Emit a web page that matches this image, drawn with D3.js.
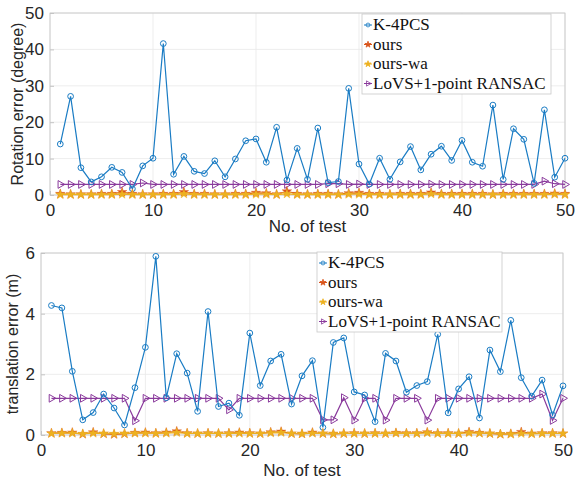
<!DOCTYPE html>
<html>
<head>
<meta charset="utf-8">
<script src="https://cdn.jsdelivr.net/npm/d3@7"></script>
<style>
  body { margin: 0; background: #fff; }
  svg { display: block; }
</style>
</head>
<body>
<div id="chart"></div>
<script>
// test index 1..50
const tests = d3.range(1, 51);

const seriesNames = ['K-4PCS', 'ours', 'ours-wa', 'LoVS+1-point RANSAC'];
const seriesColors = ['#1a7cc4', '#D95319', '#EDB120', '#8a3a9c'];

// rotation error (degree)
const rotK4pcs = [14.0, 27.1, 7.5, 3.6, 5.0, 7.6, 6.2, 1.7, 8.0, 10.1,
  41.6, 5.7, 10.6, 6.5, 5.9, 9.4, 5.0, 9.9, 14.9, 15.4,
  9.0, 18.6, 4.1, 12.8, 4.3, 18.4, 3.4, 3.7, 29.3, 8.5,
  3.0, 10.1, 4.3, 9.1, 13.3, 6.9, 11.2, 13.4, 9.5, 15.0,
  9.0, 7.9, 24.7, 4.3, 18.2, 15.3, 3.2, 23.4, 4.9, 10.1];
const rotOurs = [0.3, 0.2, 0.2, 0.2, 0.3, 0.3, 0.8, 0.3, 0.2, 0.2,
  0.3, 0.3, 0.8, 0.3, 0.3, 0.2, 0.2, 0.3, 0.3, 0.6,
  0.5, 0.2, 1.0, 0.3, 0.2, 0.3, 0.3, 0.2, 0.5, 0.6,
  0.3, 0.3, 0.2, 0.3, 0.3, 0.3, 0.7, 0.3, 0.3, 0.3,
  0.3, 0.3, 0.2, 0.3, 0.3, 0.3, 0.3, 0.3, 0.4, 0.3];
const rotOursWa = [0.1, 0.1, 0.1, 0.1, 0.1, 0.1, 0.2, 0.1, 0.1, 0.1,
  0.1, 0.1, 0.3, 0.1, 0.1, 0.1, 0.1, 0.1, 0.1, 0.2,
  0.2, 0.1, 0.3, 0.1, 0.1, 0.1, 0.1, 0.1, 0.2, 0.2,
  0.1, 0.1, 0.1, 0.1, 0.1, 0.1, 0.3, 0.1, 0.1, 0.1,
  0.1, 0.1, 0.1, 0.1, 0.1, 0.1, 0.1, 0.1, 0.2, 0.1];
const rotLovs = [2.9, 2.9, 2.9, 2.9, 2.9, 2.9, 2.9, 2.9, 3.3, 2.9,
  2.9, 2.9, 2.9, 2.9, 2.9, 2.9, 2.9, 2.9, 2.9, 2.9,
  2.9, 2.9, 2.9, 2.9, 2.9, 2.9, 3.1, 3.1, 2.9, 3.0,
  2.9, 2.9, 2.9, 2.9, 2.9, 2.9, 3.0, 2.9, 2.9, 2.9,
  2.9, 2.9, 2.9, 2.9, 2.9, 2.9, 2.9, 3.8, 3.1, 2.9];

// translation error (m)
const transK4pcs = [4.27, 4.19, 2.10, 0.50, 0.74, 1.35, 0.89, 0.33, 1.56, 2.89,
  5.89, 1.23, 2.68, 2.04, 0.78, 4.07, 0.94, 1.05, 0.65, 3.36,
  1.63, 2.44, 2.66, 1.02, 1.95, 2.45, 0.25, 3.05, 3.20, 1.42,
  1.32, 0.44, 2.69, 2.44, 1.41, 1.63, 1.76, 3.32, 0.73, 1.52,
  1.92, 0.56, 2.80, 2.09, 3.78, 1.89, 1.28, 1.81, 0.66, 1.62];
const transOurs = [0.06, 0.07, 0.08, 0.03, 0.09, 0.04, 0.02, 0.04, 0.07, 0.08,
  0.06, 0.08, 0.12, 0.06, 0.05, 0.06, 0.05, 0.06, 0.08, 0.06,
  0.05, 0.09, 0.11, 0.05, 0.04, 0.08, 0.05, 0.04, 0.05, 0.06,
  0.05, 0.06, 0.05, 0.07, 0.06, 0.06, 0.09, 0.06, 0.06, 0.05,
  0.10, 0.07, 0.05, 0.03, 0.04, 0.10, 0.05, 0.06, 0.06, 0.05];
const transOursWa = [0.05, 0.06, 0.06, 0.04, 0.06, 0.05, 0.04, 0.05, 0.06, 0.06,
  0.05, 0.06, 0.08, 0.05, 0.05, 0.05, 0.05, 0.05, 0.06, 0.05,
  0.05, 0.07, 0.08, 0.05, 0.04, 0.06, 0.05, 0.04, 0.05, 0.05,
  0.05, 0.05, 0.05, 0.06, 0.05, 0.05, 0.07, 0.05, 0.05, 0.05,
  0.07, 0.06, 0.05, 0.03, 0.03, 0.05, 0.04, 0.05, 0.05, 0.05];
const transLovs = [1.21, 1.21, 1.21, 1.21, 1.21, 1.21, 1.21, 1.21, 0.47, 1.21,
  1.21, 1.21, 1.21, 1.21, 1.21, 1.21, 1.21, 0.83, 1.21, 1.21,
  1.21, 1.21, 1.21, 1.21, 1.21, 1.21, 0.50, 0.50, 1.23, 0.49,
  1.21, 1.21, 0.49, 1.21, 1.21, 1.21, 0.49, 1.21, 1.21, 1.21,
  1.21, 1.21, 1.21, 1.21, 1.21, 1.21, 1.21, 1.35, 0.48, 1.21];

const xTicks = [0, 10, 20, 30, 40, 50];
const rotTicks = [0, 10, 20, 30, 40, 50];
const transTicks = [0, 2, 4, 6];

const width = 575, height = 480;
const svg = d3.select('#chart').append('svg')
  .attr('width', width)
  .attr('height', height)
  .style('background', '#fff');

const symbolTypes = [d3.symbolCircle, d3.symbolStar, d3.symbolStar, d3.symbolTriangle];
const markerSizes = [26, 28, 28, 26];

function drawPanel(cfg) {
  const x = d3.scaleLinear().domain([0, 50]).range([cfg.left, cfg.right]);
  const y = d3.scaleLinear().domain(cfg.yDomain).range([cfg.bottom, cfg.top]);
  const g = svg.append('g');

  // grid
  g.append('g').selectAll('line').data(xTicks).join('line')
    .attr('x1', d => x(d)).attr('x2', d => x(d))
    .attr('y1', cfg.top).attr('y2', cfg.bottom)
    .attr('stroke', '#e8e8e8').attr('stroke-width', 0.8);
  g.append('g').selectAll('line').data(cfg.yTicks).join('line')
    .attr('x1', cfg.left).attr('x2', cfg.right)
    .attr('y1', d => y(d)).attr('y2', d => y(d))
    .attr('stroke', '#e8e8e8').attr('stroke-width', 0.8);

  // box
  g.append('rect')
    .attr('x', cfg.left).attr('y', cfg.top)
    .attr('width', cfg.right - cfg.left).attr('height', cfg.bottom - cfg.top)
    .attr('fill', 'none').attr('stroke', '#c4c4c4').attr('stroke-width', 0.8);

  // axes: inward ticks like matlab
  const xAxis = g.append('g')
    .attr('transform', `translate(0,${cfg.bottom})`)
    .call(d3.axisBottom(x).tickValues(xTicks).tickFormat(d3.format('d')).tickSize(-4).tickPadding(9));
  const yAxis = g.append('g')
    .attr('transform', `translate(${cfg.left},0)`)
    .call(d3.axisLeft(y).tickValues(cfg.yTicks).tickFormat(d3.format('d')).tickSize(-4).tickPadding(6));
  [xAxis, yAxis].forEach(a => {
    a.select('.domain').remove();
    a.selectAll('.tick line').attr('stroke', '#c4c4c4');
    a.selectAll('.tick text')
      .attr('fill', '#262626')
      .style('font-family', '"Liberation Sans", Arial, sans-serif')
      .style('font-size', '17px');
  });

  // series
  const line = d3.line().x((d, i) => x(tests[i])).y(d => y(d));
  [3, 0, 1, 2].forEach(s => {
    const vals = cfg.series[s];
    const col = seriesColors[s];
    const filled = s === 1 || s === 2;
    g.append('path').datum(vals)
      .attr('d', line)
      .attr('fill', 'none')
      .attr('stroke', col)
      .attr('stroke-width', 1.2);
    g.append('g').selectAll('path').data(vals).join('path')
      .attr('d', d3.symbol().type(symbolTypes[s]).size(markerSizes[s]))
      .attr('transform', (d, i) => `translate(${x(tests[i])},${y(d)})` + (s === 3 ? ' rotate(90)' : ''))
      .attr('fill', filled ? col : 'none')
      .attr('stroke', col)
      .attr('stroke-width', filled ? 0.4 : 1);
  });

  // axis titles
  g.append('text')
    .attr('x', (cfg.left + cfg.right) / 2)
    .attr('y', cfg.xLabelY)
    .attr('text-anchor', 'middle')
    .attr('fill', '#262626')
    .style('font-family', '"Liberation Sans", Arial, sans-serif')
    .style('font-size', '17px')
    .text('No. of test');
  g.append('text')
    .attr('transform', `translate(${cfg.yLabelX},${(cfg.top + cfg.bottom) / 2}) rotate(-90)`)
    .attr('text-anchor', 'middle')
    .attr('fill', '#262626')
    .style('font-family', '"Liberation Sans", Arial, sans-serif')
    .style('font-size', '16px')
    .text(cfg.yLabel);

  // legend
  const lg = g.append('g').attr('transform', `translate(${cfg.legend[0]},${cfg.legend[1]})`);
  lg.append('rect')
    .attr('width', cfg.legend[2]).attr('height', 80)
    .attr('fill', '#fff').attr('stroke', '#c8c8c8').attr('stroke-width', 0.8);
  seriesNames.forEach((name, s) => {
    const cy = 11 + s * 19.5;
    const filled = s === 1 || s === 2;
    lg.append('line')
      .attr('x1', 2).attr('x2', 10).attr('y1', cy).attr('y2', cy)
      .attr('stroke', seriesColors[s]).attr('stroke-width', 1);
    lg.append('path')
      .attr('d', d3.symbol().type(symbolTypes[s]).size(12)())
      .attr('transform', `translate(6,${cy})` + (s === 3 ? ' rotate(90)' : ''))
      .attr('fill', filled ? seriesColors[s] : 'none')
      .attr('stroke', seriesColors[s]).attr('stroke-width', 0.8);
    lg.append('text')
      .attr('x', 11).attr('y', cy + 5)
      .attr('fill', '#111')
      .style('font-family', '"Liberation Serif", "DejaVu Serif", serif')
      .style('font-size', '17px')
      .text(name);
  });
}

drawPanel({
  left: 50, right: 565, top: 13, bottom: 195,
  yDomain: [0, 50], yTicks: rotTicks,
  series: [rotK4pcs, rotOurs, rotOursWa, rotLovs],
  yLabel: 'Rotation error (degree)', yLabelX: 23, xLabelY: 232,
  legend: [362, 14, 189]
});

drawPanel({
  left: 41, right: 563, top: 253, bottom: 435,
  yDomain: [0, 6], yTicks: transTicks,
  series: [transK4pcs, transOurs, transOursWa, transLovs],
  yLabel: 'translation error (m)', yLabelX: 18, xLabelY: 476,
  legend: [317, 252, 185]
});
</script>
</body>
</html>
